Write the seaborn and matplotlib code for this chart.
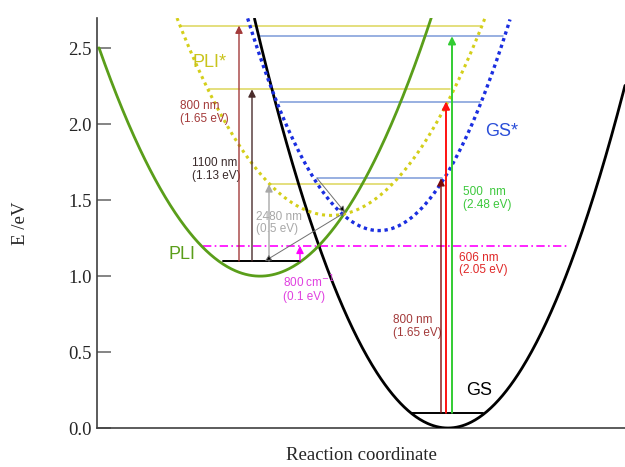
import numpy as np
import pandas as pd
import matplotlib
matplotlib.use("Agg")
import matplotlib.pyplot as plt
import seaborn as sns

# ---- data (reaction coordinate in arbitrary units, energies in eV) ----
curve_names = ["GS", "PLI", "PLI*", "GS*"]
curve_center = [3.51, 1.63, 2.34, 2.82]
curve_min = [0.00, 1.00, 1.40, 1.30]
curve_k = [0.72, 0.58, 0.548, 0.81]
curve_xrange = [(1.40, 5.28), (0.02, 3.36), (0.80, 3.88), (1.50, 4.13)]

# vibrational levels: (x_start, x_end, energy)
yellow_levels_x0 = [0.83, 1.12, 1.72]
yellow_levels_x1 = [3.83, 3.53, 2.95]
yellow_levels_E = [2.65, 2.23, 1.605]
blue_levels_x0 = [1.63, 1.83, 2.20]
blue_levels_x1 = [4.06, 3.83, 3.45]
blue_levels_E = [2.58, 2.15, 1.645]
pli_level = (1.26, 2.03, 1.10)
gs_level = (3.15, 3.86, 0.10)
magenta_line = (1.06, 4.72, 1.20)

# vertical arrows: x, E_start, E_end, color
arrow_x = [1.42, 1.55, 1.72, 2.03, 3.44, 3.49, 3.55]
arrow_E0 = [1.10, 1.10, 1.10, 1.10, 0.10, 0.10, 0.10]
arrow_E1 = [2.65, 2.23, 1.605, 1.20, 1.645, 2.15, 2.58]
arrow_col = ["#a33a3a", "#4a2c2c", "#a8a8a8", "#ff00ff", "#7a0a0a", "#ff1010", "#33cc33"]

sns.set_style("white")
plt.rcParams['font.family'] = ['Liberation Sans', 'DejaVu Sans']

fig = plt.figure(figsize=(6.25, 4.67), dpi=100)
ax = fig.add_axes([0.1552, 0.0835, 0.8448, 0.878])

ylim_top = 2.70
curve_style = {
    "GS": dict(color="black", lw=2.0, ls="-"),
    "PLI": dict(color="#5a9e1a", lw=2.0, ls="-"),
    "PLI*": dict(color="#d4cf1a", lw=2.2, ls=(0, (1, 1.3))),
    "GS*": dict(color="#1a2ee0", lw=2.4, ls=(0, (1, 1.1))),
}
for name, c, m, k, (xa, xb) in zip(curve_names, curve_center, curve_min, curve_k, curve_xrange):
    q = np.linspace(xa, xb, 400)
    E = m + k * (q - c) ** 2
    df = pd.DataFrame({"q": q, "E": E})
    df = df[df.E <= ylim_top + 0.01]
    st = curve_style[name]
    sns.lineplot(data=df, x="q", y="E", ax=ax, color=st["color"], lw=st["lw"],
                 linestyle=st["ls"], sort=False, estimator=None, zorder=3)

for x0, x1, e in zip(yellow_levels_x0, yellow_levels_x1, yellow_levels_E):
    ax.plot([x0, x1], [e, e], color="#dcd65a", lw=1.1, zorder=2)
for x0, x1, e in zip(blue_levels_x0, blue_levels_x1, blue_levels_E):
    ax.plot([x0, x1], [e, e], color="#7c9ad8", lw=1.1, zorder=2)

ax.plot([pli_level[0], pli_level[1]], [pli_level[2]] * 2, color="black", lw=1.4, zorder=4)
ax.plot([gs_level[0], gs_level[1]], [gs_level[2]] * 2, color="black", lw=1.4, zorder=4)
ax.plot([magenta_line[0], magenta_line[1]], [magenta_line[2]] * 2, color="#ff00ff",
        lw=1.2, ls=(0, (5, 2, 1, 2)), zorder=2)

for x, e0, e1, col in zip(arrow_x, arrow_E0, arrow_E1, arrow_col):
    lw = 1.0 if col not in ("#ff1010", "#33cc33") else 1.4
    ax.annotate("", xy=(x, e1), xytext=(x, e0),
                arrowprops=dict(arrowstyle="-|>", color=col, lw=lw, shrinkA=0, shrinkB=0,
                                mutation_scale=11), zorder=5)

# diagonal relaxation arrows
diag_start = [(2.20, 1.645), (2.48, 1.42)]
diag_end = [(2.48, 1.42), (1.68, 1.10)]
for s, e in zip(diag_start, diag_end):
    ax.annotate("", xy=e, xytext=s,
                arrowprops=dict(arrowstyle="-|>", color="#707070", lw=0.7, shrinkA=0, shrinkB=0,
                                mutation_scale=9, fc="black", ec="#707070"), zorder=5)

# labels
ax.text(0.95, 2.41, "PLI*", color="#c9c41c", fontsize=13, va="center")
ax.text(0.83, 2.08, "800 nm\n(1.65 eV)", color="#a33a3a", fontsize=8.5, va="center", linespacing=1.1)
ax.text(0.95, 1.70, "1100 nm\n(1.13 eV)", color="#3a2a2a", fontsize=8.5, va="center", linespacing=1.1)
ax.text(1.59, 1.35, "2480 nm\n(0.5 eV)", color="#a8a8a8", fontsize=8.5, va="center", linespacing=1.1)
ax.text(0.72, 1.14, "PLI", color="#5a9e1a", fontsize=13, va="center")
ax.text(1.86, 0.92, "800 cm$^{-1}$\n(0.1 eV)", color="#e040e0", fontsize=8.5, va="center", linespacing=1.1)
ax.text(3.88, 1.95, "GS*", color="#2a4ed8", fontsize=13, va="center")
ax.text(3.66, 1.51, "500  nm\n(2.48 eV)", color="#3cc83c", fontsize=8.5, va="center", linespacing=1.1)
ax.text(3.62, 1.08, "606 nm\n(2.05 eV)", color="#e02828", fontsize=8.5, va="center", linespacing=1.1)
ax.text(2.96, 0.67, "800 nm\n(1.65 eV)", color="#a33a3a", fontsize=8.5, va="center", linespacing=1.1)
ax.text(3.69, 0.25, "GS", color="black", fontsize=13, va="center")

ax.set_xlim(0, 5.28)
ax.set_ylim(0, ylim_top)
ax.set_yticks([0.0, 0.5, 1.0, 1.5, 2.0, 2.5])
ax.set_yticklabels(["0.0", "0.5", "1.0", "1.5", "2.0", "2.5"], family="Liberation Serif", fontsize=13.5)
ax.set_xticks([])
ax.tick_params(axis="y", direction="in", length=10, width=1.2, color="#707070", left=True, pad=4)
for sp in ["top", "right"]:
    ax.spines[sp].set_visible(False)
for sp in ["left", "bottom"]:
    ax.spines[sp].set_color("#404040")
    ax.spines[sp].set_linewidth(1.2)
ax.set_xlabel("Reaction coordinate", family="Liberation Serif", fontsize=13.5, labelpad=14)
ax.set_ylabel("E /eV", family="Liberation Serif", fontsize=13.5, labelpad=28)

fig.savefig("out.png", dpi=100)
